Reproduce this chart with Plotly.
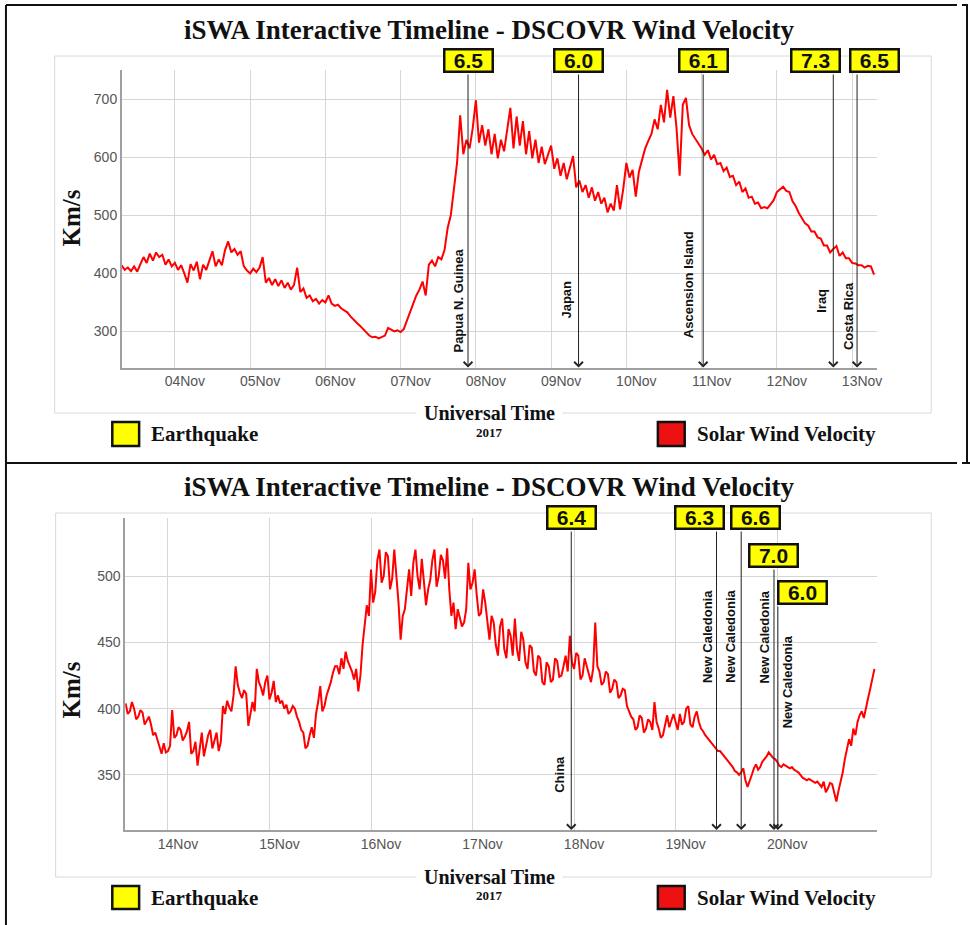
import plotly.graph_objects as go
import pandas as pd

W, H = 963, 925

# ---------------- data ----------------
top_start = "2017-11-03 07:00"          # hourly samples
top_speed = [
    414, 406, 410, 404, 412, 403, 416, 428, 418, 434, 422, 436, 428, 432, 415, 424, 412,
    418, 406, 414, 400, 384, 416, 405, 420, 390, 415, 406, 422, 438, 412, 424, 414, 440, 455, 436, 442, 432, 438, 412, 405,
    400, 408, 402, 410, 428, 384, 392, 380, 390, 378, 388, 375, 384, 372, 380, 410, 368, 374, 358, 362, 352, 356, 348, 354,
    350, 362, 348, 344, 346, 340, 336, 333, 326, 320, 315, 310, 304, 298, 293, 290, 291, 288, 290, 293, 306, 303, 300, 302,
    299, 304, 318, 332, 348, 362, 372, 386, 362, 415, 422, 412, 428, 424, 440, 478, 500, 545, 590, 672, 605, 630, 615, 650,
    698, 625, 655, 620, 648, 605, 640, 598, 630, 610, 645, 685, 615, 670, 620, 662, 605, 645, 598, 630, 590, 618, 588, 605,
    620, 580, 598, 568, 590, 562, 580, 602, 548, 560, 540, 552, 530, 548, 525, 540, 520, 530, 505, 520, 508, 552, 510, 545,
    590, 565, 578, 532, 575, 595, 615, 628, 640, 665, 648, 690, 660, 716, 668, 705, 650, 568, 690, 702, 655, 640, 632, 622,
    615, 604, 612, 596, 604, 588, 590, 576, 582, 566, 568, 552, 558, 540, 546, 530, 532, 520, 522, 512, 514, 512, 520, 526,
    540, 544, 549, 542, 540, 524, 516, 504, 496, 486, 482, 472, 472, 462, 460, 448, 448, 436, 442, 447, 430, 436, 426, 426,
    418, 417, 414, 414, 410, 413, 412, 398,
]

bot_start = "2017-11-13 14:00"          # half-hourly samples
bot_speed = [
    404, 396, 398, 405, 400, 392, 394, 399, 397, 388, 391, 394, 388, 380, 382, 376, 370, 366, 374, 367,
    368, 372, 399, 378, 380, 386, 384, 376, 379, 383, 390, 366, 368, 375, 357, 372, 382, 364, 372, 380,
    384, 370, 376, 382, 368, 375, 402, 396, 406, 401, 398, 410, 432, 418, 412, 408, 414, 411, 387, 395,
    405, 398, 430, 420, 416, 410, 420, 425, 407, 412, 421, 405, 410, 404, 406, 400, 403, 396, 398, 402,
    400, 394, 390, 384, 382, 370, 372, 380, 386, 378, 396, 405, 417, 398, 402, 410, 415, 420, 427, 432,
    432, 426, 438, 430, 443, 436, 432, 428, 422, 430, 413, 425, 448, 462, 478, 470, 505, 480, 488, 512,
    520, 495, 500, 518, 515, 490, 498, 520, 503, 480, 452, 470, 475, 490, 505, 485, 510, 520, 500, 490,
    513, 496, 478, 490, 497, 512, 520, 492, 500, 516, 512, 498, 521, 490, 470, 480, 460, 475, 468, 462,
    465, 475, 510, 490, 495, 505, 485, 470, 472, 490, 480, 465, 452, 470, 465, 448, 440, 462, 468, 445,
    438, 460, 455, 440, 468, 445, 436, 458, 452, 435, 430, 448, 446, 428, 425, 440, 438, 420, 418, 435,
    432, 420, 422, 438, 436, 424, 425, 432, 440, 428, 455, 435, 430, 442, 440, 422, 425, 438, 432, 426,
    420, 430, 465, 432, 428, 418, 420, 428, 426, 412, 415, 422, 420, 408, 410, 415, 414, 402, 398, 394,
    392, 384, 386, 395, 393, 382, 385, 392, 390, 384, 405, 390, 385, 378, 380, 388, 395, 386, 392, 396,
    390, 384, 396, 388, 390, 400, 402, 388, 386, 394, 398, 390, 385, 383, 380, 378, 376, 374, 372, 370,
    368, 368, 366, 364, 362, 360, 358, 356, 353, 352, 350, 352, 355, 346, 341, 345, 350, 355, 358, 354,
    356, 360, 362, 364, 367, 365, 363, 362, 360, 357, 356, 358, 357, 356, 355, 356, 354, 353, 352, 350,
    348, 347, 346, 347, 346, 345, 344, 345, 343, 341, 345, 337, 340, 344, 343, 336, 330, 338, 345, 352,
    362, 370, 377, 372, 385, 380, 390, 395, 398, 393, 402, 408, 415, 422, 430,
]

top_quake_time = ["2017-11-07 21:30", "2017-11-09 08:45", "2017-11-11 00:30", "2017-11-12 18:00", "2017-11-13 01:35"]
top_quake_mag = ["6.5", "6.0", "6.1", "7.3", "6.5"]
top_quake_place = ["Papua N. Guinea", "Japan", "Ascension Island", "Iraq", "Costa Rica"]

bot_quake_time = ["2017-11-17 23:20", "2017-11-19 09:40", "2017-11-19 15:30", "2017-11-19 23:15", "2017-11-20 00:10"]
bot_quake_mag = ["6.4", "6.3", "6.6", "7.0", "6.0"]
bot_quake_place = ["China", "New Caledonia", "New Caledonia", "New Caledonia", "New Caledonia"]

top_yticks = [300, 400, 500, 600, 700]
bot_yticks = [350, 400, 450, 500]

title_text = "iSWA Interactive Timeline - DSCOVR Wind Velocity"

# ---------------- layout helpers (pixels -> paper) ----------------
def px(x):
    return x / W

def py(y):
    return 1 - y / H

SERIF = "Liberation Serif, Times New Roman, serif"
SANS = "Liberation Sans, Arial, sans-serif"

top_t = pd.date_range(top_start, periods=len(top_speed), freq="h")
bot_t = pd.date_range(bot_start, periods=len(bot_speed), freq="30min")

fig = go.Figure()
fig.add_trace(go.Scatter(x=top_t, y=top_speed, mode="lines", xaxis="x", yaxis="y",
                         line=dict(color="#ff0000", width=2), hoverinfo="skip"))
fig.add_trace(go.Scatter(x=bot_t, y=bot_speed, mode="lines", xaxis="x2", yaxis="y2",
                         line=dict(color="#ff0000", width=2), hoverinfo="skip"))

common = dict(showgrid=True, gridcolor="#d6d6d6", gridwidth=1, zeroline=False,
              showline=True, linecolor="#a0a0a0", ticks="",
              tickfont=dict(family=SANS, size=14, color="#555555"))
xcommon = dict(type="date", tickformat="%d%b", dtick=86400000, tick0="2017-11-01",
               ticklabelshift=10, linewidth=2, **common)
ycommon = dict(linewidth=1.5, **common)

fig.update_layout(
    width=W, height=H, autosize=False, margin=dict(l=0, r=0, t=0, b=0),
    paper_bgcolor="white", plot_bgcolor="white", showlegend=False,
    xaxis=dict(domain=[px(122.5), px(882)], range=["2017-11-03 07:03", "2017-11-13 07:47"],
               anchor="y", **xcommon),
    yaxis=dict(domain=[py(367.5), py(70)], range=[238, 750], tickvals=top_yticks,
               anchor="x", **ycommon),
    xaxis2=dict(domain=[px(126), px(882)], range=["2017-11-13 13:54", "2017-11-20 23:29"],
                anchor="y2", **xcommon),
    yaxis2=dict(domain=[py(830), py(518)], range=[308.5, 543.8], tickvals=bot_yticks,
                anchor="x2", **ycommon),
)

shapes = []
# black panel borders (the right edge is added as a page element below)
shapes.append(dict(type="line", xref="paper", yref="paper", x0=px(6), x1=1, y0=py(5), y1=py(5),
                   line=dict(color="#111111", width=2), layer="above"))
shapes.append(dict(type="line", xref="paper", yref="paper", x0=px(6), x1=1, y0=py(463), y1=py(463),
                   line=dict(color="#111111", width=2), layer="above"))
shapes.append(dict(type="line", xref="paper", yref="paper", x0=px(6), x1=px(6), y0=0, y1=py(5),
                   line=dict(color="#111111", width=2), layer="above"))
# light gray chart frames
for (fx0, fy0, fx1, fy1) in [(55, 56, 937, 413), (56, 513, 937, 877)]:
    shapes.append(dict(type="rect", xref="paper", yref="paper", x0=px(fx0), x1=px(fx1), y0=py(fy1), y1=py(fy0),
                       line=dict(color="#d8d8d8", width=1), layer="below"))
# legend squares
for (ly0, ly1) in [(422, 446), (886, 909)]:
    shapes.append(dict(type="rect", xref="paper", yref="paper", x0=px(113), x1=px(140), y0=py(ly1), y1=py(ly0),
                       fillcolor="#ffff00", line=dict(color="#111111", width=2.5), layer="above"))
    shapes.append(dict(type="rect", xref="paper", yref="paper", x0=px(662), x1=px(689), y0=py(ly1), y1=py(ly0),
                       fillcolor="#ee1111", line=dict(color="#111111", width=2.5), layer="above"))
fig.update_layout(shapes=shapes)

ann = []

def text_ann(x, y, text, size, family=SERIF, bold=True, color="#111111", angle=0, xanchor="center", **kw):
    ann.append(dict(xref="paper", yref="paper", x=px(x), y=py(y), text=("<b>%s</b>" % text) if bold else text,
                    showarrow=False, font=dict(family=family, size=size, color=color), textangle=angle,
                    xanchor=xanchor, yanchor="middle", **kw))

for (ty, axy, uty, yy, legy) in [(30, 218, 413, 432, 434), (487, 690, 877, 895, 898)]:
    text_ann(493, ty, title_text, 27)
    text_ann(71, axy, "Km/s", 25, angle=-90)
    text_ann(493, uty, "Universal Time", 20, bgcolor="white", borderpad=7)
    text_ann(493, yy, "2017", 13)
    text_ann(150, legy, "Earthquake", 21, xanchor="left")
    text_ann(699, legy, "Solar Wind Velocity", 21, xanchor="left")

panels = [
    dict(xref="x", yref="y", ymin=238, axis_px=367.5,
         times=top_quake_time, mags=top_quake_mag, places=top_quake_place,
         box_dx=[0, 0, 0, -18, 17], box_y=[60.5] * 5,
         lab_dx=[-10, -13, -14, -12, -9], lab_y=[300.5, 300, 285, 300.5, 316],
         tail_y=[73] * 5),
    dict(xref="x2", yref="y2", ymin=308.5, axis_px=830,
         times=bot_quake_time, mags=bot_quake_mag, places=bot_quake_place,
         box_dx=[0, -17.5, 14, 0, 24.5], box_y=[517, 517, 517, 555.5, 592],
         lab_dx=[-12, -9, -11, -9, 10], lab_y=[774.5, 636.5, 636.5, 636.5, 681.5],
         tail_y=[530, 530, 530, 568, 605]),
]

for p in panels:
    n = len(p["times"])
    for i in range(n):
        ann.append(dict(xref=p["xref"], yref=p["yref"], x=p["times"][i], y=p["ymin"], text="",
                        showarrow=True, axref="pixel", ayref="pixel", ax=0,
                        ay=-(p["axis_px"] - p["tail_y"][i]), arrowhead=4, arrowsize=1.7,
                        arrowwidth=1, arrowcolor="#222222", standoff=0))
    for i in range(n):
        ann.append(dict(xref=p["xref"], yref="paper", x=p["times"][i], y=py(p["lab_y"][i]),
                        xshift=p["lab_dx"][i], text="<b>%s</b>" % p["places"][i], showarrow=False,
                        textangle=-90, font=dict(family=SANS, size=13, color="#111111"),
                        xanchor="center", yanchor="middle"))
    for i in range(n):
        ann.append(dict(xref=p["xref"], yref="paper", x=p["times"][i], y=py(p["box_y"][i]),
                        xshift=p["box_dx"][i], text="<b>%s</b>" % p["mags"][i], showarrow=False,
                        font=dict(family=SANS, size=21, color="#111111"), bgcolor="#ffff00",
                        bordercolor="#111111", borderwidth=2.5, borderpad=0, width=46, height=20,
                        xanchor="center", yanchor="middle", align="center", valign="middle"))

fig.update_layout(annotations=ann)

page_js = (
    "document.documentElement.style.margin='0px';document.body.style.margin='0px';"
    "document.documentElement.style.overflow='hidden';document.body.style.overflow='hidden';"
    "document.documentElement.style.background='white';document.body.style.background='white';"
    "function bar(l,t,w,h){var d=document.createElement('div');"
    "d.style.cssText='position:absolute;background:#111;left:'+l+'px;top:'+t+'px;width:'+w+'px;height:'+h+'px;';"
    "document.body.appendChild(d);}"
    "bar(%d,4,%d,2);bar(966,4,2,460);bar(%d,462,%d,2);" % (W - 1, 968 - (W - 1), W - 1, 970 - W + 1)
)
fig.write_html("out.html", config={"displayModeBar": False, "responsive": False}, post_script=page_js)
